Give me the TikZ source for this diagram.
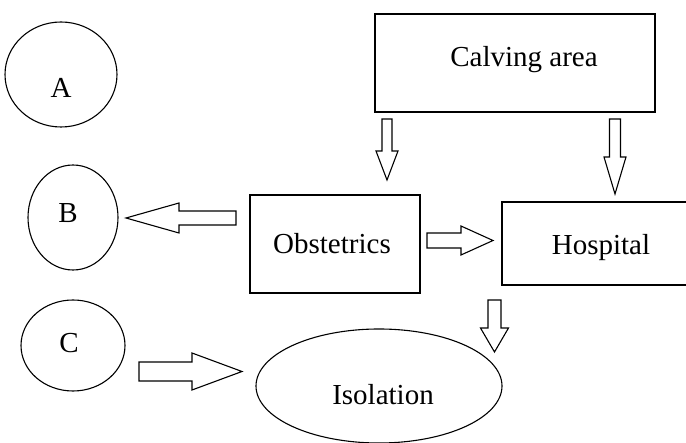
\documentclass[tikz,border=0pt]{standalone}
\usepackage{fontspec}
\setmainfont{Liberation Serif}
\usepackage{tikz}
\usetikzlibrary{calc,shapes.geometric}
\tikzset{
  every label/.style={font=\fontsize{29}{34}\selectfont, inner sep=0pt},
  zone/.style={draw, ellipse, line width=1.1pt, inner sep=0pt},
  areabox/.style={draw, rectangle, line width=1.1pt, inner sep=0pt},
  blockarr/.style={draw, line width=1.1pt, line join=miter},
}

\begin{document}
\begin{tikzpicture}[x=1pt, y=-1pt]

  %% start, tip, shaft half width, head half width, head length
  \newcommand\blockarrow[5]{%
    \coordinate (hb) at ($(#2)!#5!(#1)$);
    \draw[blockarr] ($(#1)!#3!90:(#2)$) -- ($(hb)!#3!90:(#2)$) -- ($(hb)!#4!90:(#2)$) -- (#2)
      -- ($(hb)!#4!-90:(#2)$) -- ($(hb)!#3!-90:(#2)$) -- ($(#1)!#3!-90:(#2)$) -- cycle;
  }

  \clip (0,0) rectangle (686,443);

  %% groups on the left
  \node[zone, minimum width=112pt, minimum height=105pt, label={[yshift=-13pt]center:A}] (A) at (61,74.5) {};
  \node[zone, minimum width=90pt, minimum height=105pt, label={[xshift=-5pt, yshift=4pt]center:B}] (B) at (73,217.5) {};
  \node[zone, minimum width=104pt, minimum height=91pt, label={[xshift=-4pt, yshift=2.5pt]center:C}] (C) at (73,345.5) {};

  %% areas
  \node[areabox, minimum width=280pt, minimum height=98pt, label={[xshift=9pt, yshift=3pt]center:Calving area}] (calving) at (515,63) {};
  \node[areabox, minimum width=170pt, minimum height=98pt, label={[xshift=-3pt]center:Obstetrics}] (obst) at (335,244) {};
  \node[areabox, minimum width=198pt, minimum height=83pt, label={[yshift=-4.5pt]center:Hospital}] (hosp) at (601,243.5) {};
  \node[zone, minimum width=246pt, minimum height=114pt, label={[xshift=4pt, yshift=-9pt]center:Isolation}] (iso) at (379,386) {};

  %% arrow ends
  \coordinate (c2o-s) at (387,119);   \coordinate (c2o-t) at (387,180);
  \coordinate (c2h-s) at (615,119);   \coordinate (c2h-t) at (615,194);
  \coordinate (o2b-s) at (236,218);   \coordinate (o2b-t) at (126,218);
  \coordinate (o2h-s) at (427,240.5); \coordinate (o2h-t) at (493,240.5);
  \coordinate (h2i-s) at (494.5,300); \coordinate (h2i-t) at (494.5,352);
  \coordinate (c2i-s) at (139,371.5); \coordinate (c2i-t) at (242,371.5);

  \blockarrow{c2o-s}{c2o-t}{5pt}{11pt}{29pt}      %% calving -> obstetrics
  \blockarrow{c2h-s}{c2h-t}{5.5pt}{11pt}{37pt}    %% calving -> hospital
  \blockarrow{o2b-s}{o2b-t}{7pt}{15pt}{53pt}      %% obstetrics -> B
  \blockarrow{o2h-s}{o2h-t}{7.5pt}{14.5pt}{32pt}  %% obstetrics -> hospital
  \blockarrow{h2i-s}{h2i-t}{6.5pt}{14pt}{24pt}    %% hospital -> isolation
  \blockarrow{c2i-s}{c2i-t}{9.5pt}{18.5pt}{50pt}  %% C -> isolation

\end{tikzpicture}
\end{document}
